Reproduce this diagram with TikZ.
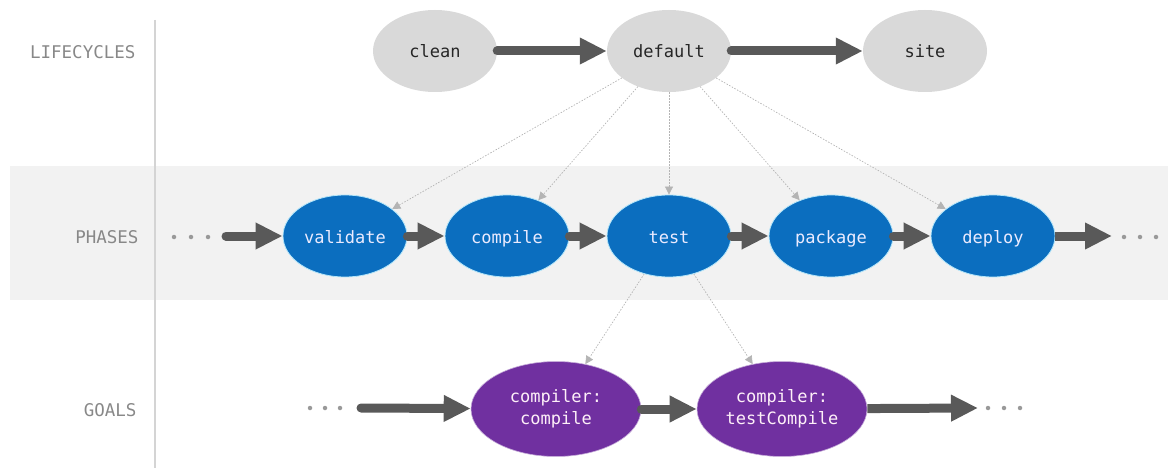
\documentclass[tikz,border=0pt]{standalone}
\usepackage{fontspec}
\setmonofont{DejaVu Sans Mono}
\usetikzlibrary{arrows.meta,shapes.geometric}
\definecolor{bandgray}{HTML}{F2F2F2}
\definecolor{linegray}{HTML}{D4D4D4}
\definecolor{lifegray}{HTML}{D9D9D9}
\definecolor{phaseblue}{HTML}{0B6EBF}
\definecolor{goalpurple}{HTML}{7030A0}
\definecolor{arrowgray}{HTML}{595959}
\definecolor{dotgray}{HTML}{B4B4B4}
\definecolor{labelgray}{HTML}{888888}
\tikzset{
  lifebox/.style={ellipse, fill=lifegray, minimum width=124pt, minimum height=82pt, inner sep=0pt,
    text height=15pt, text depth=1pt,
    font=\fontsize{17}{20}\selectfont\ttfamily, text=black!85},
  phasebox/.style={ellipse, fill=phaseblue, draw=cyan!30, line width=0.8pt, minimum width=124pt, minimum height=82pt, inner sep=0pt,
    text height=15pt, text depth=1pt,
    font=\fontsize{17}{20}\selectfont\ttfamily, text=blue!8},
  goalbox/.style={ellipse, fill=goalpurple, draw=goalpurple!40, line width=0.6pt, minimum width=170pt, minimum height=95pt, inner sep=0pt,
    align=center, font=\fontsize{17}{22}\selectfont\ttfamily, text=magenta!6},
  rowlabel/.style={anchor=east, font=\fontsize{17.5}{20}\selectfont\ttfamily, text=labelgray},
  bigarrow/.style={draw=arrowgray, line width=9pt, line cap=round, -{Triangle[length=27pt,width=25pt]}},
  thinlink/.style={draw=dotgray, line width=0.7pt, dash pattern=on 1.5pt off 1.5pt, -{Triangle[length=8pt,width=8pt,fill=dotgray]}},
  dotmark/.style={circle, fill=dotgray!85!black, inner sep=0pt, minimum size=4.5pt}
}
\begin{document}
\begin{tikzpicture}[x=1pt,y=-1pt]
\useasboundingbox (0,0) rectangle (1168,468);
\fill[bandgray] (10,166) rectangle (1168,300);
\draw[linegray, line width=2pt] (155,20) -- (155,468);

\node[rowlabel] (lblL) at (139,52) {LIFECYCLES};
\node[rowlabel] (lblP) at (142,237) {PHASES};
\node[rowlabel] (lblG) at (140,410) {GOALS};

\node[lifebox] (clean) at (435,51) {clean};
\node[lifebox] (default) at (669,51) {default};
\node[lifebox] (site) at (925,51) {site};

\node[phasebox] (validate) at (345,236) {validate};
\node[phasebox] (compile) at (507,236) {compile};
\node[phasebox] (test) at (669,236) {test};
\node[phasebox] (package) at (831,236) {package};
\node[phasebox] (deploy) at (993,236) {deploy};

\node[goalbox] (gcompile) at (556,409) {compiler:\\compile};
\node[goalbox] (gtest) at (782,409) {compiler:\\testCompile};

% dots
\node[dotmark] (pd1) at (174,237) {};
\node[dotmark] (pd2) at (191,237) {};
\node[dotmark] (pd3) at (208,237) {};
\node[dotmark] (qd1) at (1124,237) {};
\node[dotmark] (qd2) at (1140,237) {};
\node[dotmark] (qd3) at (1156,237) {};
\node[dotmark] (gd1) at (310,408) {};
\node[dotmark] (gd2) at (325,408) {};
\node[dotmark] (gd3) at (340,408) {};
\node[dotmark] (hd1) at (988,408) {};
\node[dotmark] (hd2) at (1004,408) {};
\node[dotmark] (hd3) at (1020,408) {};

\coordinate (pstart) at (226,236);
\coordinate (pend) at (1112,236);
\coordinate (gstart) at (361,408);
\coordinate (gend) at (978,408);

% lifecycle arrows
\draw[bigarrow] (clean) -- (default);
\draw[bigarrow] (default) -- (site);

% phase arrows
\draw[bigarrow] (pstart) -- (validate);
\draw[bigarrow] (validate) -- (compile);
\draw[bigarrow] (compile) -- (test);
\draw[bigarrow] (test) -- (package);
\draw[bigarrow] (package) -- (deploy);
\draw[bigarrow, line cap=butt] (deploy) -- (pend);

% goal arrows
\draw[bigarrow] (gstart) -- (gcompile);
\draw[bigarrow] (gcompile) -- (gtest);
\draw[bigarrow, line cap=butt] (gtest) -- (gend);

% links
\draw[thinlink] (default) -- (validate);
\draw[thinlink] (default) -- (compile);
\draw[thinlink] (default) -- (test);
\draw[thinlink] (default) -- (package);
\draw[thinlink] (default) -- (deploy);
\draw[thinlink] (test) -- (gcompile);
\draw[thinlink] (test) -- (gtest);
\end{tikzpicture}
\end{document}
